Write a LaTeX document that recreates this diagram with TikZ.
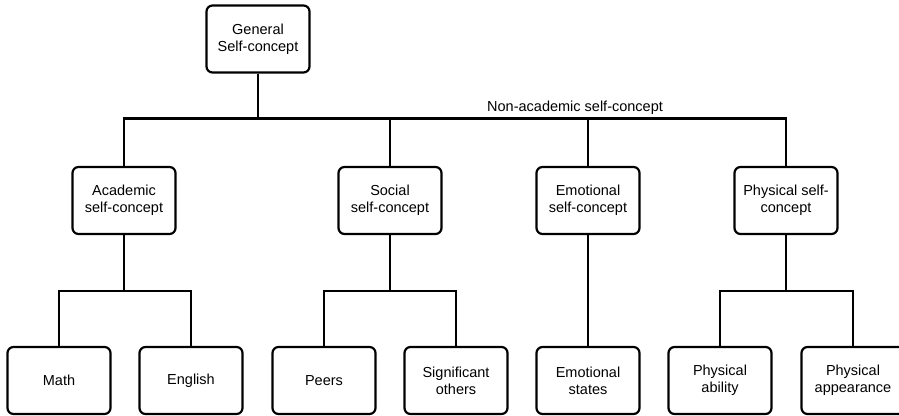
\documentclass[tikz,border=0pt]{standalone}
\usepackage{fontspec}
\setmainfont{Liberation Sans}
\begin{document}
\begin{tikzpicture}[x=1pt,y=-1pt,
  box/.style={draw, line width=2.2pt, rounded corners=6pt,
    minimum width=103pt, minimum height=67pt, align=center,
    inner sep=2pt, font=\fontsize{14.5}{17}\selectfont},
  link/.style={line width=2.2pt},
  lbl/.style={font=\fontsize{14.5}{17}\selectfont}]
\useasboundingbox (0,0) rectangle (899,415);

% top level
\node[box] (gen) at (258,39) {General\\Self-concept};

% second level
\node[box] (acad) at (124,200.5) {Academic\\self-concept};
\node[box] (soc)  at (390,200.5) {Social\\self-concept};
\node[box] (emo)  at (588,200.5) {Emotional\\self-concept};
\node[box] (phys) at (786,200.5) {Physical self-\\concept};

% third level
\node[box] (math)  at (59,380.5)  {Math};
\node[box] (eng)   at (191,380.5) {English};
\node[box] (peers) at (324,380.5) {Peers};
\node[box] (sig)   at (456,380.5) {Significant\\others};
\node[box] (est)   at (588,380.5) {Emotional\\states};
\node[box] (pab)   at (720,380.5) {Physical\\ability};
\node[box] (pap)   at (853,380.5) {Physical\\appearance};

% junction points of the bars
\coordinate (jtop)  at (258,118.5);
\coordinate (jacad) at (124,291);
\coordinate (jsoc)  at (390,291);
\coordinate (jphys) at (786,291);

% main bar
\draw[link] (gen.south) -- (jtop);
\draw[link] (acad.north) |- (jtop) -| (phys.north);
\draw[link] (jtop) -| (soc.north);
\draw[link] (jtop) -| (emo.north);
\node[lbl, anchor=base west, inner sep=0pt] (nonacad) at (487,111) {Non-academic self-concept};

% academic branch
\draw[link] (acad.south) -- (jacad);
\draw[link] (math.north) |- (jacad) -| (eng.north);

% social branch
\draw[link] (soc.south) -- (jsoc);
\draw[link] (peers.north) |- (jsoc) -| (sig.north);

% emotional branch
\draw[link] (emo.south) -- (est.north);

% physical branch
\draw[link] (phys.south) -- (jphys);
\draw[link] (pab.north) |- (jphys) -| (pap.north);
\end{tikzpicture}
\end{document}
